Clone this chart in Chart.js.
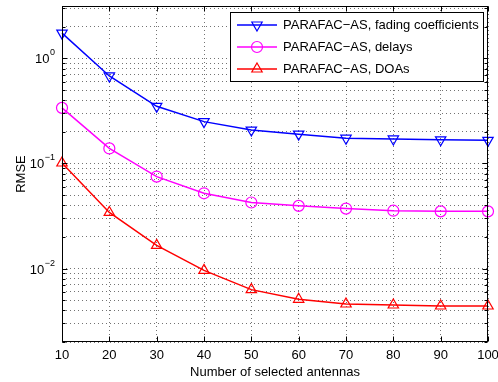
<!DOCTYPE html>
<html>
<head>
<meta charset="utf-8">
<script src="https://cdn.jsdelivr.net/npm/chart.js@4.4.1/dist/chart.umd.min.js"></script>
<style>
  html, body { margin:0; padding:0; background:#fff; }
  #wrap { width:498px; height:382px; position:relative; }
</style>
</head>
<body>
<div id="wrap"><canvas id="chart"></canvas></div>
<script>
// RMSE vs number of selected antennas
const antennas = [10, 20, 30, 40, 50, 60, 70, 80, 90, 100];
const rmseFading = [1.74, 0.68, 0.35, 0.25, 0.208, 0.19, 0.174, 0.171, 0.168, 0.166];
const rmseDelays = [0.338, 0.139, 0.075, 0.052, 0.0425, 0.0395, 0.0372, 0.0355, 0.035, 0.035];
const rmseDOAs   = [0.101, 0.0342, 0.0166, 0.0096, 0.0063, 0.0051, 0.0046, 0.0045, 0.0044, 0.0044];

const seriesLabels = ["PARAFAC\u2212AS, fading coefficients", "PARAFAC\u2212AS, delays", "PARAFAC\u2212AS, DOAs"];

const xTicks = [10, 20, 30, 40, 50, 60, 70, 80, 90, 100];
const yMajor = [0.01, 0.1, 1];
const yMajorExp = ["\u22122", "\u22121", "0"];
const yGridTicks = [0.002, 0.003, 0.004, 0.005, 0.006, 0.007, 0.008, 0.009,
                    0.01, 0.02, 0.03, 0.04, 0.05, 0.06, 0.07, 0.08, 0.09,
                    0.1, 0.2, 0.3, 0.4, 0.5, 0.6, 0.7, 0.8, 0.9,
                    1, 2, 3];
const xTitle = "Number of selected antennas";
const yTitle = "RMSE";

const FONT = '"Liberation Sans", Arial, Helvetica, sans-serif';
const colors = ["#0000ff", "#ff00ff", "#ff0000"];

function marker(ctx, style, x, y, r){
  ctx.beginPath();
  if (style === "circle"){
    ctx.arc(x, y, r, 0, Math.PI*2);
  } else {
    const flip = style === "down" ? -1 : 1;
    ctx.moveTo(x, y - flip*r);
    ctx.lineTo(x + r*Math.sqrt(3)/2, y + flip*r/2);
    ctx.lineTo(x - r*Math.sqrt(3)/2, y + flip*r/2);
    ctx.closePath();
  }
  ctx.stroke();
}

// matlab style box, inward ticks, labels and legend
const matlabLook = {
  id: "matlabLook",
  afterDraw(chart){
    const {ctx, chartArea:a, scales:{x, y}} = chart;
    const L = Math.round(a.left)+0.5, R = Math.round(a.right)-0.5;
    const T = Math.round(a.top)+0.5, B = Math.round(a.bottom)-0.5;
    ctx.save();
    ctx.strokeStyle = "#000";
    ctx.lineWidth = 1;
    ctx.beginPath();
    xTicks.forEach(v=>{
      const px = Math.round(x.getPixelForValue(v))+0.5;
      ctx.moveTo(px, B); ctx.lineTo(px, B-5);
      ctx.moveTo(px, T); ctx.lineTo(px, T+5);
    });
    yGridTicks.forEach(v=>{
      const py = Math.round(y.getPixelForValue(v))+0.5;
      const len = yMajor.includes(v) ? 5 : 3;
      ctx.moveTo(L, py); ctx.lineTo(L+len, py);
      ctx.moveTo(R, py); ctx.lineTo(R-len, py);
    });
    ctx.stroke();
    ctx.strokeRect(L, T, R-L, B-T);

    // x tick labels + title
    ctx.fillStyle = "#000";
    ctx.font = "13px " + FONT;
    ctx.textAlign = "center";
    ctx.textBaseline = "alphabetic";
    xTicks.forEach(v=> ctx.fillText(String(v), x.getPixelForValue(v), a.bottom+17));
    ctx.fillText(xTitle, (a.left+a.right)/2, a.bottom+34);

    // y tick labels 10^n
    yMajor.forEach((v,i)=>{
      const py = y.getPixelForValue(v);
      const right = a.left - 7;
      ctx.font = "9px " + FONT;
      const ew = ctx.measureText(yMajorExp[i]).width;
      ctx.textAlign = "left";
      ctx.fillText(yMajorExp[i], right-ew, py-3);
      ctx.font = "13px " + FONT;
      ctx.textAlign = "right";
      ctx.fillText("10", right-ew-0.5, py+5);
    });

    // y title
    ctx.save();
    ctx.translate(25, (a.top+a.bottom)/2);
    ctx.rotate(-Math.PI/2);
    ctx.textAlign = "center";
    ctx.font = "13px " + FONT;
    ctx.fillText(yTitle, 0, 0);
    ctx.restore();

    // legend
    const bx = 230.5, by = 12.5, bw = 253, bh = 69;
    ctx.fillStyle = "#fff";
    ctx.fillRect(bx, by, bw, bh);
    ctx.strokeStyle = "#000";
    ctx.strokeRect(bx, by, bw, bh);
    const rows = [25, 47, 69];
    const styles = ["down", "circle", "up"];
    seriesLabels.forEach((lab,i)=>{
      ctx.strokeStyle = colors[i];
      ctx.lineWidth = 1.5;
      ctx.beginPath();
      ctx.moveTo(237, rows[i]); ctx.lineTo(277, rows[i]);
      ctx.stroke();
      ctx.lineWidth = 1.2;
      marker(ctx, styles[i], 257, rows[i], styles[i]==="circle" ? 5.5 : 6);
      ctx.fillStyle = "#000";
      ctx.font = "13px " + FONT;
      ctx.textAlign = "left";
      ctx.textBaseline = "middle";
      ctx.fillText(lab, 283, rows[i]+0.5);
    });
    ctx.restore();
  }
};

function makeSet(label, data, color, style, rot){
  return {
    label,
    data: antennas.map((a,i)=>({x:a, y:data[i]})),
    borderColor: color,
    backgroundColor: "rgba(0,0,0,0)",
    borderWidth: 1.5,
    pointStyle: style,
    pointRotation: rot,
    pointRadius: style === "circle" ? 5.5 : 6,
    pointBorderWidth: 1.2,
    pointBorderColor: color,
    pointBackgroundColor: "rgba(0,0,0,0)",
    tension: 0,
    clip: false,
  };
}

const gridStyle = { color: "rgba(0,0,0,0.55)", lineWidth: 1, drawTicks: false };

new Chart(document.getElementById("chart").getContext("2d"), {
  type: "line",
  data: {
    datasets: [
      makeSet(seriesLabels[0], rmseFading, colors[0], "triangle", 180),
      makeSet(seriesLabels[1], rmseDelays, colors[1], "circle", 0),
      makeSet(seriesLabels[2], rmseDOAs, colors[2], "triangle", 0),
    ]
  },
  options: {
    responsive: true,
    maintainAspectRatio: false,
    animation: false,
    devicePixelRatio: 1,
    layout: { autoPadding: false, padding: { left: 62, right: 10, top: 6, bottom: 40 } },
    plugins: { legend: { display: false }, tooltip: { enabled: false } },
    scales: {
      x: {
        type: "linear", min: 10, max: 100,
        afterBuildTicks: s => { s.ticks = xTicks.map(v=>({value:v})); },
        ticks: { display: false },
        grid: gridStyle,
        border: { display: false, dash: [1, 3] },
      },
      y: {
        type: "logarithmic", min: 0.002, max: 3.15,
        afterBuildTicks: s => { s.ticks = yGridTicks.map(v=>({value:v})); },
        ticks: { display: false },
        grid: gridStyle,
        border: { display: false, dash: [1, 3] },
      }
    }
  },
  plugins: [matlabLook]
});
</script>
</body>
</html>
